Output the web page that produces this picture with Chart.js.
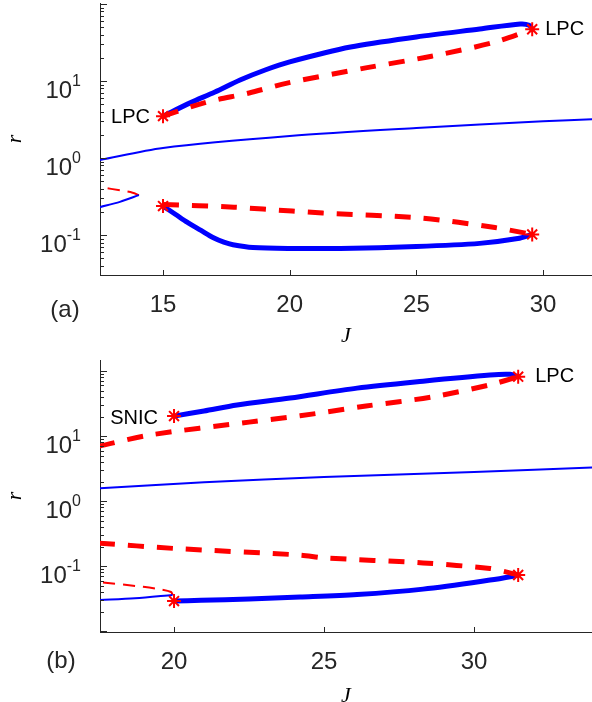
<!DOCTYPE html>
<html>
<head>
<meta charset="utf-8">
<script src="https://cdn.jsdelivr.net/npm/chart.js@4.4.1/dist/chart.umd.min.js"></script>
<style>
html, body { margin: 0; padding: 0; background: #fff; overflow: hidden; }
#wrap { position: relative; width: 592px; height: 702px; overflow: hidden; }
canvas { position: absolute; left: 0; }
#chartA { top: 0; }
#chartB { top: 350px; }
</style>
</head>
<body>
<div id="wrap">
<canvas id="chartA" width="592" height="350"></canvas>
<canvas id="chartB" width="592" height="362"></canvas>
</div>
<script>
// ---- panel (a) ----
const jUpperStableA = [15.0, 16.07, 17.05, 18.04, 19.03, 20.0, 22.4, 25.0, 27.5, 29.1, 29.45, 29.57];
const rUpperStableA = [3.5, 5.2, 7.2, 10.3, 13.9, 17.7, 27.6, 37.3, 47.3, 55, 53, 47];
const jUpperUnstableA = [15.0, 16.7, 18.4, 19.9, 23.0, 25.6, 28.1, 29.57];
const rUpperUnstableA = [3.5, 5.3, 7.0, 9.4, 14.8, 21, 32, 47];
const jMiddleA = [12.5, 15, 20, 25, 30, 32];
const rMiddleA = [0.94, 1.35, 1.93, 2.45, 3.0, 3.2];
const jLowStableA = [12.5, 13.3, 14.05];
const rLowStableA = [0.23, 0.27, 0.33];
const jLowUnstableA = [14.05, 13.8, 13.4, 12.5];
const rLowUnstableA = [0.33, 0.355, 0.376, 0.42];
const jLowerStableA = [15, 15.5, 15.95, 16.5, 16.97, 17.4, 17.76, 18.55, 20, 22, 25, 27.5, 29, 29.57];
const rLowerStableA = [0.238, 0.185, 0.147, 0.115, 0.093, 0.081, 0.075, 0.069, 0.067, 0.067, 0.071, 0.078, 0.09, 0.102];
const jLowerUnstableA = [15, 17.8, 20.1, 21.3, 25.2, 28.1, 29.57];
const rLowerUnstableA = [0.25, 0.23, 0.205, 0.193, 0.166, 0.125, 0.102];
const jStarsA = [15, 29.57, 15, 29.57];
const rStarsA = [3.5, 47, 0.238, 0.102];
const xTicksA = [15, 20, 25, 30];

// ---- panel (b) ----
const jUpperStableB = [20, 21, 22.1, 23.87, 26.1, 28.3, 30.53, 31.2, 31.47];
const rUpperStableB = [20.3, 24.3, 30, 38.5, 54.7, 70, 87, 89, 82];
const jUpperUnstableB = [17.5, 19.2, 22.5, 24.2, 26.4, 28.6, 30.5, 31.47];
const rUpperUnstableB = [7.0, 10.4, 16.4, 20.5, 29, 40, 61, 82];
const jMiddleB = [17.5, 21, 25, 30, 34];
const rMiddleB = [1.58, 1.95, 2.34, 2.8, 3.3];
const jLowerUnstableB = [17.5, 20, 24.2, 25, 28.3, 30.53, 31.0, 31.47];
const rLowerUnstableB = [0.226, 0.187, 0.148, 0.134, 0.112, 0.092, 0.083, 0.073];
const jLowerStableB = [20, 20.9, 22.5, 24.2, 26.1, 28.3, 30.53, 31.3, 31.47];
const rLowerStableB = [0.029, 0.0298, 0.0313, 0.0334, 0.0365, 0.0443, 0.061, 0.070, 0.073];
const jLowStableB = [17.5, 18.7, 19.95];
const rLowStableB = [0.030, 0.032, 0.036];
const jLowUnstableB = [19.95, 19.9, 19.53, 18.97, 17.5];
const rLowUnstableB = [0.036, 0.040, 0.044, 0.048, 0.057];
const jStarsB = [20, 31.47, 20, 31.47];
const rStarsB = [20.3, 82, 0.029, 0.073];
const xTicksB = [20, 25, 30];
const yDecades = [-1, 0, 1];

const axisColor = '#262626';
const sans = '"Liberation Sans", Arial, sans-serif';
const serif = '"Liberation Serif", "DejaVu Serif", serif';
const blue = '#0000ff';
const red = '#ff0000';

function pts(js, rs) {
    return js.map((j, i) => ({ x: j, y: rs[i] }));
}

function curve(js, rs, color, width, dash) {
    return {
        type: 'line',
        data: pts(js, rs),
        borderColor: color,
        borderWidth: width,
        borderDash: dash || [],
        borderCapStyle: 'butt',
        pointRadius: 0,
        tension: 0.3,
        fill: false
    };
}

function stars(js, rs) {
    return {
        type: 'scatter',
        data: pts(js, rs),
        pointStyle: 'star',
        pointRadius: 7,
        pointBorderWidth: 2,
        borderColor: red,
        backgroundColor: red
    };
}

// inward ticks, 10^n labels and text notes
const decorations = {
    id: 'decorations',
    afterDraw(chart, args, opts) {
        const ctx = chart.ctx;
        const xs = chart.scales.x, ys = chart.scales.y;
        const area = chart.chartArea;
        ctx.save();
        ctx.strokeStyle = axisColor;
        ctx.lineWidth = 1;
        ctx.beginPath();
        const lo = Math.floor(Math.log10(ys.min)), hi = Math.ceil(Math.log10(ys.max));
        for (let d = lo; d <= hi; d++) {
            for (let k = 1; k <= 9; k++) {
                const v = k * Math.pow(10, d);
                if (v < ys.min || v > ys.max) continue;
                const py = Math.round(ys.getPixelForValue(v)) + 0.5;
                ctx.moveTo(area.left, py);
                ctx.lineTo(area.left + (k === 1 ? 7 : 4), py);
            }
        }
        xs.ticks.forEach(t => {
            const px = Math.round(xs.getPixelForValue(t.value)) + 0.5;
            ctx.moveTo(px, area.bottom);
            ctx.lineTo(px, area.bottom - 5);
        });
        ctx.stroke();

        ctx.fillStyle = axisColor;
        ctx.textAlign = 'left';
        ctx.textBaseline = 'alphabetic';
        yDecades.forEach(n => {
            const py = ys.getPixelForValue(Math.pow(10, n));
            const exp = String(n);
            ctx.font = '16px ' + sans;
            const ew = ctx.measureText(exp).width;
            ctx.font = '24px ' + sans;
            const bw = ctx.measureText('10').width;
            const right = area.left - 19;
            ctx.fillText('10', right - ew - bw, py + 17);
            ctx.font = '16px ' + sans;
            ctx.fillText(exp, right - ew, py + 4.5);
        });

        ctx.fillStyle = '#000';
        ctx.textBaseline = 'middle';
        ctx.font = '20px ' + sans;
        opts.notes.forEach(n => {
            ctx.textAlign = n.align;
            ctx.fillText(n.text, xs.getPixelForValue(n.j) + n.dx, ys.getPixelForValue(n.r) + n.dy);
        });
        ctx.font = '24px ' + sans;
        ctx.textAlign = 'center';
        ctx.fillStyle = axisColor;
        ctx.fillText(opts.panel, opts.panelX, opts.panelY);
        ctx.restore();
    }
};

function makePanel(id, datasets, xMin, xMax, xTicks, yMin, yMax, topPad, xHeight, titlePad, extra) {
    return new Chart(document.getElementById(id), {
        data: { datasets: datasets },
        options: {
            responsive: false,
            animation: false,
            layout: { autoPadding: false, padding: { top: topPad, left: 0, right: 0, bottom: 0 } },
            plugins: {
                legend: { display: false },
                tooltip: { enabled: false },
                decorations: extra
            },
            scales: {
                x: {
                    type: 'linear',
                    min: xMin,
                    max: xMax,
                    afterBuildTicks: s => { s.ticks = xTicks.map(v => ({ value: v })); },
                    grid: { display: false, drawTicks: false },
                    border: { display: true, color: axisColor, width: 1 },
                    ticks: { color: axisColor, font: { family: sans, size: 24 }, padding: 16, maxRotation: 0, autoSkip: false },
                    title: { display: true, text: 'J', color: '#000', font: { family: serif, style: 'italic', size: 22 }, padding: { top: 0, bottom: titlePad } },
                    afterFit: s => { s.height = xHeight; }
                },
                y: {
                    type: 'logarithmic',
                    min: yMin,
                    max: yMax,
                    grid: { display: false, drawTicks: false },
                    border: { display: true, color: axisColor, width: 1 },
                    ticks: { display: false },
                    title: { display: true, text: 'r', color: '#000', font: { family: serif, style: 'italic', size: 22 }, padding: { top: 2, bottom: 0 } },
                    afterFit: s => { s.width = 100; }
                }
            }
        },
        plugins: [decorations]
    });
}

makePanel('chartA', [
    stars(jStarsA, rStarsA),
    curve(jUpperUnstableA, rUpperUnstableA, red, 5, [16, 13]),
    curve(jUpperStableA, rUpperStableA, blue, 5),
    curve(jLowerUnstableA, rLowerUnstableA, red, 5, [16, 13]),
    curve(jLowerStableA, rLowerStableA, blue, 5),
    curve(jMiddleA, rMiddleA, blue, 2),
    curve(jLowStableA, rLowStableA, blue, 2),
    curve(jLowUnstableA, rLowUnstableA, red, 2, [12, 8])
], 12.513, 31.93, xTicksA, 0.0303, 103, 3, 75, 1, {
    notes: [
        { text: 'LPC', j: 15, r: 3.5, dx: -13, dy: 1, align: 'right' },
        { text: 'LPC', j: 29.57, r: 47, dx: 13, dy: 0, align: 'left' }
    ],
    panel: '(a)', panelX: 65, panelY: 310
});

makePanel('chartB', [
    stars(jStarsB, rStarsB),
    curve(jUpperUnstableB, rUpperUnstableB, red, 5, [16, 13]),
    curve(jUpperStableB, rUpperStableB, blue, 5),
    curve(jLowerUnstableB, rLowerUnstableB, red, 5, [16, 13]),
    curve(jLowerStableB, rLowerStableB, blue, 5),
    curve(jMiddleB, rMiddleB, blue, 2),
    curve(jLowStableB, rLowStableB, blue, 2),
    curve(jLowUnstableB, rLowUnstableB, red, 2, [12, 8])
], 17.533, 33.93, xTicksB, 0.0097, 148, 10, 80, 3, {
    notes: [
        { text: 'SNIC', j: 20, r: 20.3, dx: -16, dy: 2, align: 'right' },
        { text: 'LPC', j: 31.47, r: 82, dx: 17, dy: 0, align: 'left' }
    ],
    panel: '(b)', panelX: 61, panelY: 311
});
</script>
</body>
</html>
